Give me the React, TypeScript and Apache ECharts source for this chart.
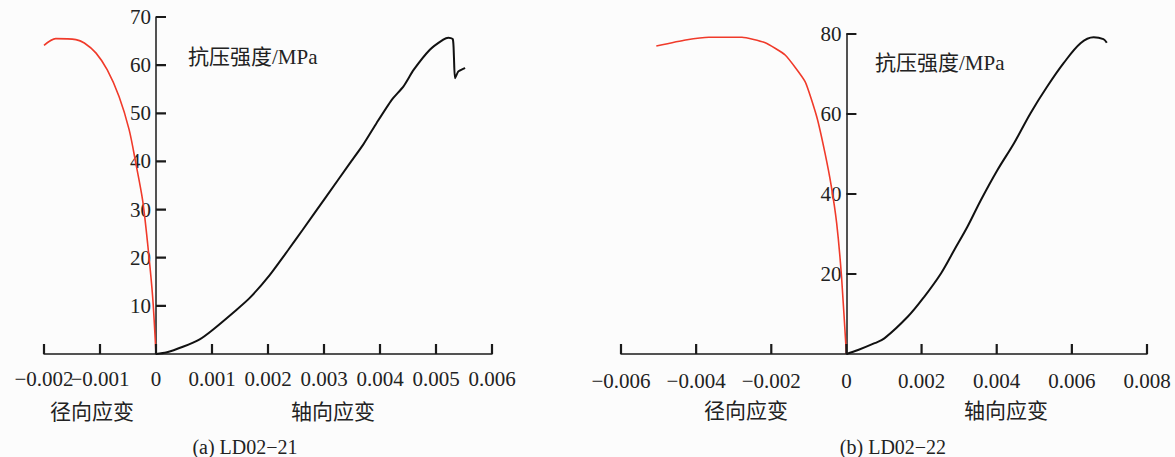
import React, { useEffect, useRef } from "react";
import * as echarts from "echarts";

// (a) LD02-21 — axial strain / stress (black)
const axialStrainA = [0, 0.00018, 0.00048, 0.00078, 0.00101, 0.00143, 0.00167, 0.00203, 0.00236, 0.00262, 0.00304, 0.00346, 0.0037, 0.00394, 0.00421, 0.00442, 0.0046, 0.00489, 0.00513, 0.00522, 0.0053, 0.00532, 0.00534, 0.0054, 0.00552];
const axialStressA = [0, 0.3, 1.5, 3.05, 5.0, 9.1, 11.6, 16.4, 21.6, 25.8, 32.7, 39.6, 43.5, 48.0, 52.8, 55.6, 59.0, 63.2, 65.3, 65.7, 65.4, 61.8, 57.3, 58.7, 59.4];
// (a) LD02-21 — radial strain / stress (red)
const radialStrainA = [-0.002, -0.00179, -0.00143, -0.00128, -0.00107, -0.00087, -0.00066, -0.00048, -0.00036, -0.00024, -0.00015, -0.00006, 0];
const radialStressA = [64.1, 65.5, 65.3, 64.6, 62.5, 59.0, 53.5, 46.6, 39.6, 32.0, 23.0, 11.9, 0];

// (b) LD02-22 — axial strain / stress (black)
const axialStrainB = [0, 0.00031, 0.00075, 0.00101, 0.00163, 0.00207, 0.00252, 0.00287, 0.00322, 0.00358, 0.00402, 0.00446, 0.0049, 0.00534, 0.00578, 0.00623, 0.00658, 0.00684, 0.00693];
const axialStressB = [0, 1.0, 2.7, 3.9, 9.3, 14.3, 20.2, 26.0, 31.8, 38.5, 46.0, 52.7, 60.2, 66.8, 72.7, 77.7, 79.2, 78.7, 77.8];
// (b) LD02-22 — radial strain / stress (red)
const radialStrainB = [-0.00506, -0.00428, -0.00366, -0.00278, -0.00216, -0.00163, -0.0011, -0.00079, -0.00057, -0.0004, -0.00026, -0.00013, 0];
const radialStressB = [77.0, 78.5, 79.2, 79.2, 77.8, 74.75, 68.1, 59.3, 50.2, 41.8, 32.7, 19.3, 0];

// Tick values
const strainTicksA = [-0.002, -0.001, 0, 0.001, 0.002, 0.003, 0.004, 0.005, 0.006];
const strainTicksB = [-0.006, -0.004, -0.002, 0, 0.002, 0.004, 0.006, 0.008];
const stressTicksA = [10, 20, 30, 40, 50, 60, 70];
const stressTicksB = [20, 40, 60, 80];

const zip = (xs: number[], ys: number[]) => xs.map((x, i) => [x, ys[i]]);
const first = (a: number[]) => a[0];
const last = (a: number[]) => a[a.length - 1];

const FONT = "Liberation Serif, Noto Sans CJK SC, serif";
const INK = "#222";
const AXIS = "#1a1a1a";
const TICK_PX = 10;

const fmtStrain = (v: number) => (v === 0 ? "0" : v.toFixed(3).replace("-", "\u2212"));
const isNear = (a: number, b: number) => Math.abs(a - b) < 1e-9;

// The two leftmost labels of panel (a) touch each other, so the second one is
// placed by its own label-only axis to keep both visible.
const crowdedLabel = strainTicksA[1];
const mainLabel = (v: number) => (isNear(v, crowdedLabel) ? "" : fmtStrain(v));
const crowdedOnly = (v: number) => (isNear(v, crowdedLabel) ? fmtStrain(v) : "");

// Plot panels
const PANEL_A = { left: 44, top: 17, width: 448, height: 337 };
const PANEL_B = { left: 621, top: 34, width: 526, height: 320 };

const zeroX = (p: typeof PANEL_A, t: number[]) =>
  p.left + (p.width * (0 - first(t))) / (last(t) - first(t));

const labelStyle = { fontFamily: FONT, fontSize: 21, fontWeight: "normal" as const, color: INK };

function strainAxis(
  grid: number,
  t: number[],
  margin: number,
  formatter: (v: number) => string,
  show = true,
  showLine = true
) {
  return {
    gridIndex: grid,
    type: "value",
    position: "bottom",
    min: first(t),
    max: last(t),
    interval: t[1] - t[0],
    show,
    axisLine: { show: showLine, onZero: false, lineStyle: { color: AXIS, width: 1.5 } },
    axisTick: { show: false },
    splitLine: { show: false },
    axisLabel: {
      show: true,
      ...labelStyle,
      margin,
      showMinLabel: true,
      showMaxLabel: true,
      hideOverlap: false,
      formatter,
    },
  };
}

function stressAxis(grid: number, t: number[], show: boolean) {
  return {
    gridIndex: grid,
    type: "value",
    min: 0,
    max: last(t),
    interval: t[0],
    show,
    position: "left",
    axisLine: { show: true, onZero: false, lineStyle: { color: AXIS, width: 1.5 } },
    axisTick: { show: false },
    splitLine: { show: false },
    axisLabel: {
      show: true,
      ...labelStyle,
      margin: 5,
      showMaxLabel: true,
      hideOverlap: false,
      formatter: (v: number) => (v === 0 ? "" : String(v)),
    },
  };
}

// Inward tick marks as short broken line segments in data space
function tickSegments(gi: number, segs: (number | string)[][]) {
  return {
    type: "line",
    xAxisIndex: gi,
    yAxisIndex: gi,
    data: segs,
    showSymbol: false,
    symbol: "none",
    connectNulls: false,
    clip: false,
    lineStyle: { color: AXIS, width: 2.2 },
    silent: true,
    z: 5,
  };
}

const xTickSegs = (ticks: number[], len: number) =>
  ticks.flatMap((v) => [[v, 0], [v, len], ["-", "-"]]);
const yTickSegs = (ticks: number[], len: number) =>
  ticks.flatMap((v) => [[0, v], [len, v], ["-", "-"]]);

function text(t: string, x: number, y: number, size: number, align = "center") {
  return {
    type: "text",
    style: {
      text: t,
      x,
      y,
      font: `${size}px ${FONT}`,
      fill: INK,
      textAlign: align,
      textVerticalAlign: "middle",
    },
  };
}

function curve(gi: number, data: number[][], color: string, width: number, smooth: number | boolean) {
  return {
    type: "line",
    xAxisIndex: gi,
    yAxisIndex: gi,
    data,
    showSymbol: false,
    symbol: "none",
    smooth,
    lineStyle: { color, width },
    silent: true,
  };
}

export default function App() {
  const ref = useRef<HTMLDivElement>(null);

  useEffect(() => {
    if (!ref.current) return;
    const chart = echarts.init(ref.current, null, { renderer: "svg" });
    const zA = zeroX(PANEL_A, strainTicksA);
    const zB = zeroX(PANEL_B, strainTicksB);
    // tick length converted from pixels to each panel's data units
    const lenYA = (TICK_PX * last(stressTicksA)) / PANEL_A.height;
    const lenYB = (TICK_PX * last(stressTicksB)) / PANEL_B.height;
    const lenXA = (TICK_PX * (last(strainTicksA) - first(strainTicksA))) / PANEL_A.width;
    const lenXB = (TICK_PX * (last(strainTicksB) - first(strainTicksB))) / PANEL_B.width;
    chart.setOption({
      animation: false,
      backgroundColor: "#fcfcfc",
      textStyle: { fontFamily: FONT, fontSize: 21, color: INK },
      grid: [
        { ...PANEL_A },
        { ...PANEL_B },
        // stress axes sit on the zero-strain line of each panel
        { left: zA, top: PANEL_A.top, width: 40, height: PANEL_A.height },
        { left: zB, top: PANEL_B.top, width: 40, height: PANEL_B.height },
      ],
      xAxis: [
        strainAxis(0, strainTicksA, 14, mainLabel),
        strainAxis(1, strainTicksB, 16, fmtStrain),
        strainAxis(2, [0, 1], 15, fmtStrain, false),
        strainAxis(3, [0, 1], 15, fmtStrain, false),
        strainAxis(0, strainTicksA, 14, crowdedOnly, true, false),
      ],
      yAxis: [
        stressAxis(0, stressTicksA, false),
        stressAxis(1, stressTicksB, false),
        stressAxis(2, stressTicksA, true),
        stressAxis(3, stressTicksB, true),
      ],
      series: [
        tickSegments(0, xTickSegs(strainTicksA, lenYA)),
        tickSegments(1, xTickSegs(strainTicksB, lenYB)),
        tickSegments(0, yTickSegs(stressTicksA, lenXA)),
        tickSegments(1, yTickSegs(stressTicksB, lenXB)),
        curve(0, zip(radialStrainA, radialStressA), "#f03a2a", 1.6, 0.3),
        curve(0, zip(axialStrainA, axialStressA), "#111", 2, 0.2),
        curve(1, zip(radialStrainB, radialStressB), "#f03a2a", 1.6, 0.15),
        curve(1, zip(axialStrainB, axialStressB), "#111", 2, 0.35),
      ],
      graphic: [
        text("抗压强度/MPa", 188, 57, 21, "left"),
        text("抗压强度/MPa", 875, 63, 21, "left"),
        text("径向应变", 92, 412, 21),
        text("轴向应变", 333, 412, 21),
        text("径向应变", 746, 411, 21),
        text("轴向应变", 1006, 411, 21),
        text("(a) LD02\u221221", 245, 447, 20),
        text("(b) LD02\u221222", 893, 447, 20),
      ],
    });
    return () => chart.dispose();
  }, []);

  return (
    <div
      ref={ref}
      style={{ position: "absolute", left: 0, top: 0, width: 1175, height: 457 }}
    />
  );
}
